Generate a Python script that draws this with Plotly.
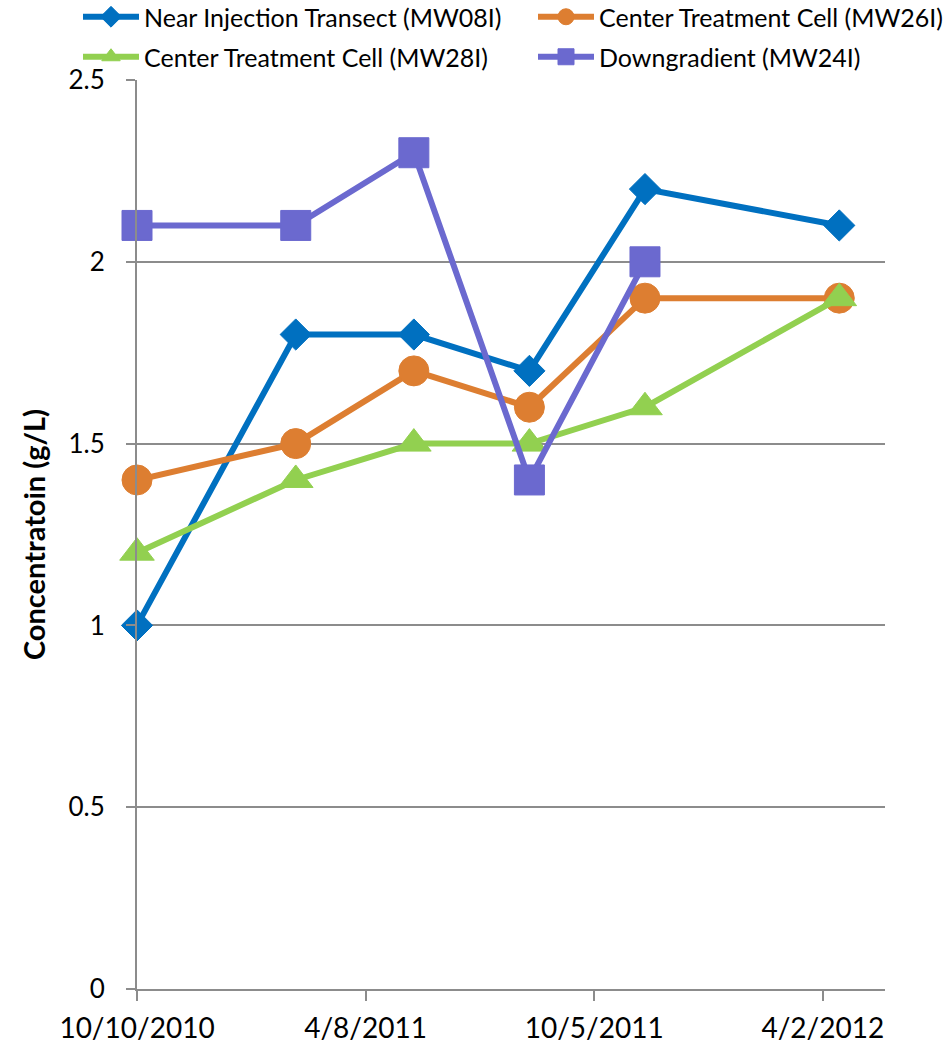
import plotly.graph_objects as go

dates = ["2010-10-10", "2011-02-12", "2011-05-16", "2011-08-15", "2011-11-14", "2012-04-15"]
mw08i = [1.0, 1.8, 1.8, 1.7, 2.2, 2.1]
mw26i = [1.4, 1.5, 1.7, 1.6, 1.9, 1.9]
mw28i = [1.2, 1.4, 1.5, 1.5, 1.6, 1.9]
mw24i = [2.1, 2.1, 2.3, 1.4, 2.0, None]

series_names = ["Near Injection Transect (MW08I)", "Center Treatment Cell (MW26I)",
                "Center Treatment Cell (MW28I)", "Downgradient (MW24I)"]
tick_dates = ["2010-10-10", "2011-04-08", "2011-10-05", "2012-04-02"]
tick_labels = ["10/10/2010", "4/8/2011", "10/5/2011", "4/2/2012"]
y_ticks = [0, 0.5, 1, 1.5, 2, 2.5]
y_tick_labels = ["0", "0.5", "1", "1.5", "2", "2.5"]

colors = ["#0070C0", "#DD7E31", "#92D050", "#6B69CF"]
symbols = ["diamond", "circle", "triangle-up", "square"]
sizes = [24, 30, 30, 30]
values = [mw08i, mw26i, mw28i, mw24i]
legend_ids = ["legend", "legend2", "legend3", "legend4"]
# legend grid placement (pixels): left x of entry, vertical centre
legend_pos = [(78, 17), (533, 17), (78, 57), (533, 57)]

FONT = "Lato"
W, H = 949, 1046
fig = go.Figure()
for name, vals, c, s, sz, lg in zip(series_names, values, colors, symbols, sizes, legend_ids):
    fig.add_trace(go.Scatter(
        x=dates, y=vals, name=name, mode="lines+markers",
        line=dict(color=c, width=6),
        marker=dict(color=c, symbol=s, size=sz, line=dict(color=c, width=1)),
        connectgaps=False, legend=lg, cliponaxis=False,
    ))

legends = {}
for lg, (px, py) in zip(legend_ids, legend_pos):
    legends[lg] = dict(
        orientation="h", xref="container", yref="container",
        x=px / W, y=1 - py / H, xanchor="left", yanchor="middle",
        font=dict(size=25, family=FONT), itemwidth=56,
        bgcolor="rgba(0,0,0,0)",
    )

fig.update_layout(
    width=W, height=H,
    margin=dict(l=137, r=64, t=80, b=57, autoexpand=False),
    paper_bgcolor="white", plot_bgcolor="white",
    font=dict(family=FONT, color="black"),
    showlegend=True,
    **legends,
    xaxis=dict(
        type="date", range=["2010-10-10", "2012-05-21"],
        tickvals=tick_dates, ticktext=tick_labels,
        showgrid=False, showline=True, linecolor="#8C8C8C", linewidth=2,
        ticks="outside", ticklen=10, tickcolor="#8C8C8C", tickwidth=2,
        tickfont=dict(size=28, family=FONT), ticklabelstandoff=3,
        zeroline=False,
    ),
    yaxis=dict(
        range=[0, 2.5], tickvals=y_ticks, ticktext=y_tick_labels,
        showgrid=True, gridcolor="#8C8C8C", gridwidth=1.5,
        showline=True, linecolor="#8C8C8C", linewidth=2,
        ticks="outside", ticklen=9, tickcolor="#8C8C8C", tickwidth=1.5,
        tickfont=dict(size=26, family=FONT), ticklabelstandoff=16,
        zeroline=False,
        title=dict(text="<b>Concentratoin (g/L)</b>", font=dict(size=29, family=FONT), standoff=14),
    ),
)

fig.write_html("out.html")
